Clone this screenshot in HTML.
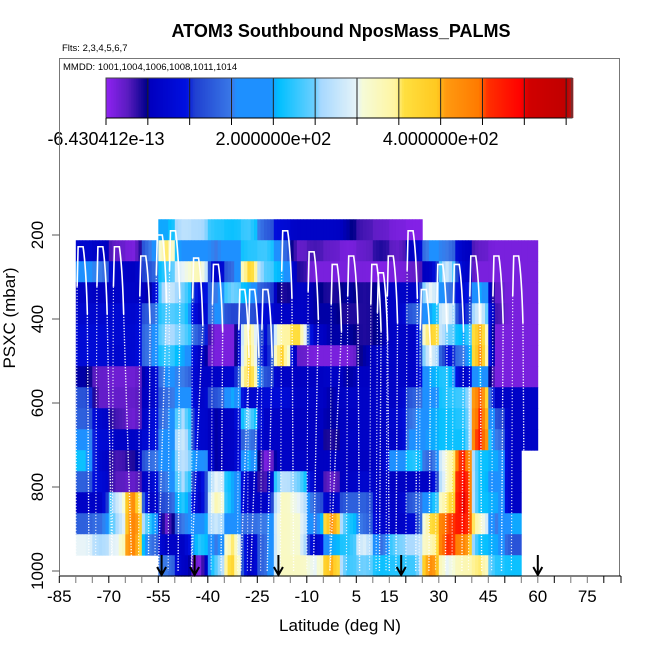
<!DOCTYPE html>
<html><head><meta charset="utf-8">
<style>
html,body{margin:0;padding:0;background:#fff;}
svg{display:block;font-family:"Liberation Sans",sans-serif;}
</style></head>
<body>
<svg id="chart" width="650" height="650" viewBox="0 0 650 650" xmlns="http://www.w3.org/2000/svg">
<text x="341" y="37" text-anchor="middle" font-size="18" font-weight="bold">ATOM3 Southbound NposMass_PALMS</text>
<text x="62" y="51" font-size="9.5">Flts: 2,3,4,5,6,7</text>
<rect x="59.5" y="58.5" width="560" height="517.5" fill="none" stroke="#777" stroke-width="1"/>
<text x="63" y="70" font-size="9.5">MMDD: 1001,1004,1006,1008,1011,1014</text>
<g id="cbar"></g>
<g id="cells"></g>
<g id="profiles"></g>
<g id="arrows"></g>
<g id="axes"></g>
<text x="340" y="631" text-anchor="middle" font-size="17">Latitude (deg N)</text>
<text transform="translate(15,318) rotate(-90)" text-anchor="middle" font-size="17">PSXC (mbar)</text>
</svg>
<script>
// ---- data ----
const pressureRows = [187.5,237.5,287.5,337.5,387.5,437.5,487.5,537.5,587.5,637.5,687.5,737.5,787.5,837.5,887.5,937.5,987.5];
const latBins = [-80,-75,-70,-65,-60,-55,-50,-45,-40,-35,-30,-25,-20,-15,-10,-5,0,5,10,15,20,25,30,35,40,45,50,55];
const N = null;
const row0  = [N,N,N,N,N,200,270,260,220,210,230,130,80,60,60,60,50,30,20,10,5,N,N,N,N,N,N,N];
const row1  = [70,60,20,10,150,350,180,170,150,180,220,230,150,20,30,20,10,20,40,20,60,160,150,60,20,10,10,10];
const row2  = [160,150,60,55,120,230,300,330,60,140,370,240,200,40,10,10,10,10,5,10,20,60,280,70,10,10,10,10];
const row3  = [60,55,60,60,50,280,250,80,150,250,200,120,40,60,50,40,50,40,50,60,60,300,150,80,200,20,10,10];
const row4  = [70,70,75,70,130,240,230,60,160,110,120,80,60,60,50,50,40,40,50,60,130,200,300,80,300,30,10,10];
const row5  = [80,80,75,75,150,260,250,120,10,10,350,80,340,360,60,50,50,40,50,60,60,380,250,200,400,10,10,10];
const row6  = [80,80,70,75,150,230,200,60,10,10,360,70,380,20,10,10,10,50,60,60,60,300,90,150,420,10,10,10];
const row7  = [50,20,15,15,60,160,150,60,60,70,380,120,60,55,55,60,50,55,55,60,60,200,220,60,200,10,10,10];
const row8  = [120,20,20,20,60,140,190,60,120,200,70,80,80,60,60,50,60,60,60,60,130,180,220,230,450,60,60,60];
const row9  = [130,70,30,15,75,150,260,70,50,60,250,60,60,55,55,50,55,60,60,70,150,200,210,220,470,120,60,60];
const row10 = [170,80,60,60,80,170,280,70,50,60,150,60,60,55,55,40,60,60,60,60,170,200,210,210,480,150,60,60];
const row11 = [210,70,30,40,140,180,270,180,50,60,200,10,60,60,55,55,55,55,60,180,220,130,320,470,210,200,60,N];
const row12 = [130,80,25,20,70,150,260,70,300,200,60,30,270,250,60,20,60,70,60,55,60,60,320,490,210,180,60,N];
const row13 = [60,60,280,420,60,120,220,60,330,200,60,60,320,300,130,60,130,130,60,60,130,200,350,500,210,200,60,N];
const row14 = [130,140,260,430,220,20,150,180,280,160,140,150,320,310,150,420,220,140,70,60,80,360,450,480,320,150,200,N];
const row15 = [300,260,300,430,150,60,60,220,150,350,60,140,320,310,60,200,220,290,140,250,260,330,460,430,210,200,120,N];
const row16 = [N,N,N,N,N,150,60,10,240,370,60,140,320,320,300,400,230,250,210,220,230,420,300,330,350,220,210,N];
const gridValues = [row0,row1,row2,row3,row4,row5,row6,row7,row8,row9,row10,row11,row12,row13,row14,row15,row16];
// flight profiles: top latitude, top pressure, latitude reached near surface
const profileTopLat = [-79,-73,-68,-60,-55,-51,-44,-38,-30,-27,-23,-17,-9,-2,3,10,12,15,21,25,30,35,40,47,53];
const profileTopP   = [228,228,228,250,200,190,255,270,330,330,330,190,240,270,250,270,290,250,190,330,270,270,250,250,250];
const profileBotLat = [-76,-69,-63,-58,-55,-49,-45,-36,-30,-27,-22,-14,-8,-3,6,12,15,17,23,27,32,37,43,49,56];
const arrowLats = [-54,-44,-18.6,18.6,60];
const xTicks = [-85,-70,-55,-40,-25,-10,5,15,30,45,60,75];
const yTicks = [200,400,600,800,1000];
const cbarTickLabels = ["-6.430412e-13","2.000000e+02","4.000000e+02"];
const cbarTickVals = [0,200,400];
const cbarMax = 557;

// ---- scales ----
const xs = lat => 59.3 + (lat + 85) * 3.3;
const ys = p => 235 + (p - 200) * 0.42;
const NS = "http://www.w3.org/2000/svg";
function mk(tag, attrs, parent){const e=document.createElementNS(NS,tag);for(const k in attrs)e.setAttribute(k,attrs[k]);parent.appendChild(e);return e;}
const stops = [[0,[141,34,240]],[25,[90,28,192]],[48,[0,0,139]],[52,[0,0,192]],[95,[0,16,224]],[105,[32,64,208]],[150,[58,122,232]],[155,[30,144,255]],[195,[30,144,255]],[205,[0,191,255]],[250,[112,208,255]],[255,[166,216,255]],[300,[232,244,248]],[305,[245,251,216]],[345,[255,245,160]],[355,[255,224,64]],[395,[255,200,32]],[405,[255,154,16]],[445,[255,122,0]],[455,[255,48,0]],[495,[255,0,0]],[505,[208,0,0]],[550,[192,0,0]],[560,[165,42,42]]];
function col(v){
  if(v<=stops[0][0])return `rgb(${stops[0][1]})`;
  for(let i=1;i<stops.length;i++){if(v<=stops[i][0]){const a=stops[i-1],b=stops[i];const t=(v-a[0])/(b[0]-a[0]);const c=a[1].map((x,j)=>Math.round(x+(b[1][j]-x)*t));return `rgb(${c})`;}}
  return `rgb(${stops[stops.length-1][1]})`;
}

// ---- colorbar ----
const cb=document.getElementById('cbar');
const cbx0=106,cbx1=572,cby0=78,cby1=118;
const cbs=v=>cbx0+(v/cbarMax)*(cbx1-cbx0);
for(let v=0;v<cbarMax;v+=2){const r=mk('rect',{x:cbs(v),y:cby0,width:cbs(v+2)-cbs(v)+0.5,height:cby1-cby0,fill:col(v)},cb);

}
for(let v=50;v<cbarMax;v+=50){const l=mk('line',{x1:cbs(v),x2:cbs(v),y1:cby0,y2:cby1,stroke:'#222','stroke-width':1},cb);

}
mk('rect',{x:cbx0,y:cby0,width:cbx1-cbx0,height:cby1-cby0,fill:'none',stroke:'#444'},cb);
mk('line',{x1:cbx0,x2:cbs(550),y1:cby1,y2:cby1,stroke:'#000'},cb);
for(let v=0;v<cbarMax;v+=50){const t=mk('line',{x1:cbs(v),x2:cbs(v),y1:cby1,y2:cby1+7,stroke:'#000'},cb);

}
cbarTickVals.forEach((v,i)=>{const t=mk('text',{x:cbs(v),y:145,'text-anchor':'middle','font-size':18},cb);t.textContent=cbarTickLabels[i];

});

// ---- heatmap (each cell drawn as sub-strips blending toward neighbours) ----
const cg=document.getElementById('cells');
const SUB=5;
gridValues.forEach((row,ri)=>{
  const p=pressureRows[ri];
  const y0=ys(p-25),y1=ys(p+25);
  row.forEach((v,ci)=>{
    if(v===null)return;
    const prev=(ci>0&&row[ci-1]!==null)?row[ci-1]:v;
    const next=(ci<row.length-1&&row[ci+1]!==null)?row[ci+1]:v;
    for(let s=0;s<SUB;s++){
      const f=(s+0.5)/SUB;
      let val;
      if(f<0.5){val=v+(prev-v)*(0.5-f)*0.5;}else{val=v+(next-v)*(f-0.5)*0.5;}
      const x0=xs(latBins[ci]+5*s/SUB),x1=xs(latBins[ci]+5*(s+1)/SUB);
      const r=mk('rect',{x:x0,y:y0,width:x1-x0+0.4,height:y1-y0+0.4,fill:col(val)},cg);
      
      
    }
  });
});

// ---- profiles ----
const pg=document.getElementById('profiles');
profileTopLat.forEach((lat,i)=>{
  const tp=profileTopP[i];
  const xa=xs(lat-0.6),xb=xs(lat+1.2),yt=ys(tp);
  const s=mk('path',{d:`M${xa},${yt+40} L${xa+1},${yt} L${xb},${yt} Q${xb+3},${yt+20} ${xs(lat+2.5)},${ys(tp+160)}`,fill:'none',stroke:'#fff','stroke-width':1.6},pg);
  
  
  const d=mk('line',{x1:xs(lat+2.5),y1:ys(tp+160),x2:xs(profileBotLat[i]),y2:ys(1000),stroke:'#fff','stroke-width':1.4,'stroke-dasharray':'1.2 1.6'},pg);
  
  
  const d2=mk('line',{x1:xa,y1:yt+40,x2:xs(lat-1),y2:ys(1000),stroke:'#fff','stroke-width':1.2,'stroke-dasharray':'1.2 1.8',opacity:0.8},pg);
  
  
});

// ---- arrows ----
const ag=document.getElementById('arrows');
arrowLats.forEach(lat=>{
  const x=xs(lat);
  const a=mk('path',{d:`M${x},555 L${x},575 M${x-4.5},567 L${x},575 L${x+4.5},567`,fill:'none',stroke:'#000','stroke-width':2},ag);
  
  
});

// ---- axes ----
const ax=document.getElementById('axes');
mk('line',{x1:59.5,x2:621,y1:576,y2:576,stroke:'#000'},ax);
mk('line',{x1:59.5,x2:59.5,y1:58,y2:576,stroke:'#777'},ax);
for(let lat=-85;lat<=84;lat+=5){const t=mk('line',{x1:xs(lat),x2:xs(lat),y1:576,y2:583,stroke:(lat+85)%15===0?'#000':'#777'},ax);

}
mk('line',{x1:621,x2:621,y1:576,y2:583,stroke:'#000'},ax);
xTicks.forEach(v=>{const t=mk('text',{x:xs(v),y:602,'text-anchor':'middle','font-size':17},ax);t.textContent=v;

});
yTicks.forEach(v=>{const y=ys(v);const l=mk('line',{x1:52,x2:59.5,y1:y,y2:y,stroke:'#555'},ax);


const t=mk('text',{transform:`translate(43,${y}) rotate(-90)`,'text-anchor':'middle','font-size':17},ax);t.textContent=v;

});
</script>
</body></html>
